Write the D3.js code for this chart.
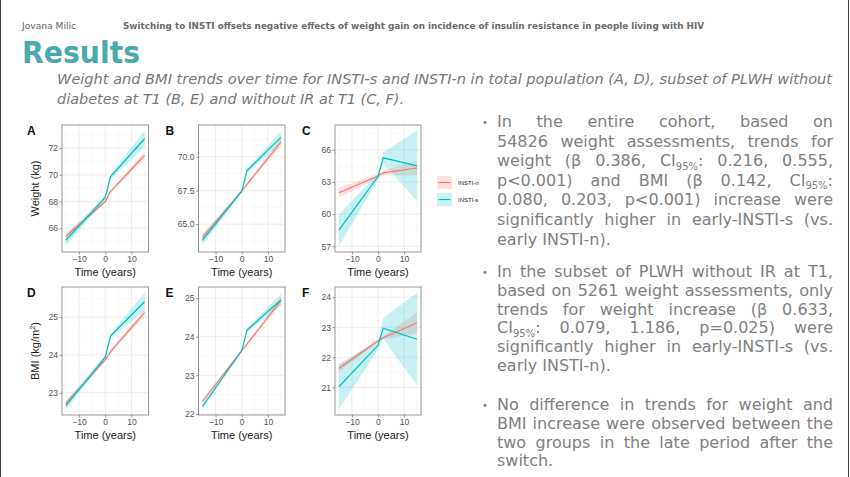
<!DOCTYPE html>
<html>
<head>
<meta charset="utf-8">
<script src="https://cdn.jsdelivr.net/npm/d3@7"></script>
<style>
  html, body { margin: 0; padding: 0; background: #fff; }
  svg { display: block; }
</style>
</head>
<body>
<svg id="slide" width="850" height="477"></svg>
<script>
// time points of the fitted trends (years around the switch)
const years = [-15, 0, 2, 15]
const xTicks = [-10, 0, 10]
const groups = ['INSTI-n', 'INSTI-s']

// A - weight, total population
const weightAllN = [65.4, 68.0, 68.75, 71.45]
const weightAllNci = [0.2, 0.1, 0.1, 0.3]
const weightAllS = [65.1, 68.3, 69.85, 72.7]
const weightAllSci = [0.4, 0.15, 0.2, 0.6]
const weightAllTicks = [66, 68, 70, 72]
// B - weight, without diabetes at T1
const weightNoDmN = [64.0, 67.45, 67.95, 71.1]
const weightNoDmNci = [0.25, 0.08, 0.1, 0.3]
const weightNoDmS = [63.8, 67.45, 68.95, 71.45]
const weightNoDmSci = [0.4, 0.1, 0.15, 0.45]
const weightNoDmTicks = [65, 67.5, 70]
// C - weight, without IR at T1
const weightNoIrN = [62.0, 63.55, 63.85, 64.3]
const weightNoIrNci = [0.45, 0.2, 0.22, 0.7]
const weightNoIrS = [58.5, 63.5, 65.25, 64.5]
const weightNoIrSci = [1.5, 0.3, 0.5, 3.3]
const weightNoIrTicks = [57, 60, 63, 66]
// D - BMI, total population
const bmiAllN = [22.72, 23.87, 24.09, 25.12]
const bmiAllNci = [0.07, 0.03, 0.04, 0.1]
const bmiAllS = [22.66, 23.94, 24.5, 25.41]
const bmiAllSci = [0.12, 0.05, 0.06, 0.24]
const bmiAllTicks = [23, 24, 25]
// E - BMI, without diabetes at T1
const bmiNoDmN = [22.32, 23.64, 23.81, 24.94]
const bmiNoDmNci = [0.05, 0.02, 0.03, 0.1]
const bmiNoDmS = [22.19, 23.64, 24.17, 24.96]
const bmiNoDmSci = [0.08, 0.03, 0.05, 0.15]
const bmiNoDmTicks = [22, 23, 24, 25]
// F - BMI, without IR at T1
const bmiNoIrN = [21.63, 22.55, 22.65, 23.15]
const bmiNoIrNci = [0.12, 0.05, 0.06, 0.35]
const bmiNoIrS = [21.02, 22.4, 22.97, 22.6]
const bmiNoIrSci = [0.75, 0.15, 0.35, 1.55]
const bmiNoIrTicks = [21, 22, 23, 24]

// slide texts
const authorText = 'Jovana Milic'
const headerText = 'Switching to INSTI offsets negative effects of weight gain on incidence of insulin resistance in people living with HIV'
const titleText = 'Results'
const captionLines = [
  'Weight and BMI trends over time for INSTI-s and INSTI-n in total population (A, D), subset of PLWH without',
  'diabetes at T1 (B, E) and without IR at T1 (C, F).'
]
// "~" marks a subscript part
const bullets = [
  ['In the entire cohort, based on',
   '54826 weight assessments, trends for',
   'weight (β 0.386, CI~95%~: 0.216, 0.555,',
   'p<0.001) and BMI (β 0.142, CI~95%~:',
   '0.080, 0.203, p<0.001) increase were',
   'significantly higher in early-INSTI-s (vs.',
   'early INSTI-n).'],
  ['In the subset of PLWH without IR at T1,',
   'based on 5261 weight assessments, only',
   'trends for weight increase (β 0.633,',
   'CI~95%~: 0.079, 1.186, p=0.025) were',
   'significantly higher in early-INSTI-s (vs.',
   'early INSTI-n).'],
  ['No difference in trends for weight and',
   'BMI increase were observed between the',
   'two groups in the late period after the',
   'switch.']
]

const colors = d3.scaleOrdinal(groups, ['#F8766D', '#00BFC4'])
const svg = d3.select('#slide')

svg.append('rect').attr('width', 850).attr('height', 477).attr('fill', '#fff')
svg.append('line').attr('x1', 0.5).attr('x2', 0.5).attr('y1', 0).attr('y2', 477).attr('stroke', '#444')
svg.append('line').attr('x1', 848.5).attr('x2', 848.5).attr('y1', 0).attr('y2', 477).attr('stroke', '#444')

// header
svg.append('text').attr('x', 22).attr('y', 29).text(authorText)
  .style('font-family', 'DejaVu Sans Condensed, DejaVu Sans').style('font-size', '8.5px').attr('fill', '#666')
  .attr('textLength', 54).attr('lengthAdjust', 'spacingAndGlyphs')
svg.append('text').attr('x', 123).attr('y', 29).text(headerText)
  .style('font-family', 'DejaVu Sans Condensed, DejaVu Sans').style('font-weight', 'bold').style('font-size', '8.5px')
  .attr('fill', '#6a6a6a').attr('textLength', 581).attr('lengthAdjust', 'spacingAndGlyphs')
svg.append('text').attr('x', 22).attr('y', 63).text(titleText)
  .style('font-family', 'DejaVu Sans').style('font-weight', 'bold').style('font-size', '30px')
  .attr('fill', '#4aa9ae').attr('textLength', 118).attr('lengthAdjust', 'spacingAndGlyphs')
captionLines.forEach((t, i) => {
  svg.append('text').attr('x', 57).attr('y', 84 + i * 20).text(t)
    .style('font-family', 'DejaVu Sans').style('font-style', 'italic').style('font-size', '14.5px')
    .attr('fill', '#777').attr('textLength', i === 0 ? 775 : 347).attr('lengthAdjust', 'spacingAndGlyphs')
})

// bullet paragraphs, justified
const textG = svg.append('g').attr('fill', '#808080')
  .style('font-family', 'DejaVu Sans').style('font-size', '16px')
const paraY = [127, 277, 410]
const lineH = [19.6, 18.8, 18.8]
const textX = 497, textW = 336
bullets.forEach((para, p) => {
  textG.append('text').attr('x', 482).attr('y', paraY[p] - 1).text('•').style('font-size', '10px')
  para.forEach((line, i) => {
    const y = paraY[p] + i * lineH[p]
    const words = line.split(' ').map(w => {
      const t = textG.append('text').attr('y', y)
      w.split('~').forEach((part, k) => {
        if (!part) return
        const sp = t.append('tspan').text(part)
        if (k % 2 === 1) sp.attr('dy', 3.5).style('font-size', '10px')
        else if (k > 0) sp.attr('dy', -3.5)
      })
      return t
    })
    const widths = words.map(t => t.node().getComputedTextLength())
    const total = d3.sum(widths)
    const last = i === para.length - 1
    const gap = last || words.length < 2 ? 5.1 : (textW - total) / (words.length - 1)
    let x = textX
    words.forEach((t, k) => { t.attr('x', x); x += widths[k] + gap })
  })
})

// small multiples
const cols = [[62, 148.5], [198.5, 285], [335, 421]]
const rows = [[125, 252], [287, 415]]
const panels = [
  { id: 'A', n: weightAllN, nci: weightAllNci, s: weightAllS, sci: weightAllSci, ticks: weightAllTicks, dom: [64.22, 73.73], col: 0, row: 0, fmt: d3.format('d') },
  { id: 'B', n: weightNoDmN, nci: weightNoDmNci, s: weightNoDmS, sci: weightNoDmSci, ticks: weightNoDmTicks, dom: [62.94, 72.35], col: 1, row: 0, fmt: d3.format('.1f') },
  { id: 'C', n: weightNoIrN, nci: weightNoIrNci, s: weightNoIrS, sci: weightNoIrSci, ticks: weightNoIrTicks, dom: [56.47, 68.31], col: 2, row: 0, fmt: d3.format('d') },
  { id: 'D', n: bmiAllN, nci: bmiAllNci, s: bmiAllS, sci: bmiAllSci, ticks: bmiAllTicks, dom: [22.41, 25.8], col: 0, row: 1, fmt: d3.format('d') },
  { id: 'E', n: bmiNoDmN, nci: bmiNoDmNci, s: bmiNoDmS, sci: bmiNoDmSci, ticks: bmiNoDmTicks, dom: [21.97, 25.29], col: 1, row: 1, fmt: d3.format('d') },
  { id: 'F', n: bmiNoIrN, nci: bmiNoIrNci, s: bmiNoIrS, sci: bmiNoIrSci, ticks: bmiNoIrTicks, dom: [20.08, 24.34], col: 2, row: 1, fmt: d3.format('d') }
]

const chartFont = 'Liberation Sans, Arial, sans-serif'

panels.forEach(p => {
  const [x0, x1] = cols[p.col]
  const [y0, y1] = rows[p.row]
  const x = d3.scaleLinear().domain([-16.5, 16.5]).range([x0, x1])
  const y = d3.scaleLinear().domain(p.dom).range([y1, y0])
  const g = svg.append('g')

  // grid
  const step = p.ticks[1] - p.ticks[0]
  const yMinor = d3.range(p.ticks[0] - step / 2, p.dom[1], step).filter(v => v > p.dom[0])
  const xMinor = [-15, -5, 5, 15]
  g.selectAll('.ymin').data(yMinor).join('line')
    .attr('x1', x0).attr('x2', x1).attr('y1', d => y(d)).attr('y2', d => y(d))
    .attr('stroke', '#f3f3f3').attr('stroke-width', 0.5)
  g.selectAll('.xmin').data(xMinor).join('line')
    .attr('y1', y0).attr('y2', y1).attr('x1', d => x(d)).attr('x2', d => x(d))
    .attr('stroke', '#f3f3f3').attr('stroke-width', 0.5)
  g.selectAll('.ymaj').data(p.ticks).join('line')
    .attr('x1', x0).attr('x2', x1).attr('y1', d => y(d)).attr('y2', d => y(d))
    .attr('stroke', '#e8e8e8').attr('stroke-width', 0.8)
  g.selectAll('.xmaj').data(xTicks).join('line')
    .attr('y1', y0).attr('y2', y1).attr('x1', d => x(d)).attr('x2', d => x(d))
    .attr('stroke', '#e8e8e8').attr('stroke-width', 0.8)

  const series = [
    { key: 'INSTI-n', v: p.n, ci: p.nci },
    { key: 'INSTI-s', v: p.s, ci: p.sci }
  ]
  const area = d3.area().x(d => x(d.t)).y0(d => y(d.v - d.ci)).y1(d => y(d.v + d.ci))
  const line = d3.line().x(d => x(d.t)).y(d => y(d.v))
  const pts = s => years.map((t, i) => ({ t, v: s.v[i], ci: s.ci[i] }))

  g.selectAll('.band').data(series).join('path')
    .attr('d', s => area(pts(s)))
    .attr('fill', s => colors(s.key)).attr('fill-opacity', 0.22)
  g.selectAll('.trend').data(series).join('path')
    .attr('d', s => line(pts(s)))
    .attr('fill', 'none').attr('stroke', s => colors(s.key)).attr('stroke-width', 1.2)

  g.append('rect').attr('x', x0).attr('y', y0).attr('width', x1 - x0).attr('height', y1 - y0)
    .attr('fill', 'none').attr('stroke', '#8a8a8a').attr('stroke-width', 0.9)

  const xAxis = g.append('g').attr('transform', `translate(0,${y1})`)
    .call(d3.axisBottom(x).tickValues(xTicks).tickSize(2.5).tickPadding(1.5))
  const yAxis = g.append('g').attr('transform', `translate(${x0},0)`)
    .call(d3.axisLeft(y).tickValues(p.ticks).tickFormat(p.fmt).tickSize(2.5).tickPadding(1.5))
  ;[xAxis, yAxis].forEach(a => {
    a.select('.domain').remove()
    a.selectAll('line').attr('stroke', '#555').attr('stroke-width', 0.6)
    a.selectAll('text').attr('fill', '#555').style('font-family', chartFont).style('font-size', '8.6px')
  })

  g.append('text').attr('x', (x0 + x1) / 2).attr('y', y1 + 24).attr('text-anchor', 'middle')
    .text('Time (years)').style('font-family', chartFont).style('font-size', '11px').attr('fill', '#222')

  g.append('text').attr('x', x0 - (p.col === 0 ? 35 : 33)).attr('y', y0 + 10)
    .text(p.id).style('font-family', chartFont).style('font-weight', 'bold').style('font-size', '12px').attr('fill', '#111')

  if (p.col === 0) {
    const yt = g.append('text').attr('transform', `translate(${x0 - 23},${(y0 + y1) / 2}) rotate(-90)`)
      .attr('text-anchor', 'middle').style('font-family', chartFont).style('font-size', '11px').attr('fill', '#222')
    if (p.row === 0) yt.text('Weight (kg)')
    else {
      yt.append('tspan').text('BMI (kg/m')
      yt.append('tspan').text('2').attr('dy', -4).style('font-size', '7.5px')
      yt.append('tspan').text(')').attr('dy', 4)
    }
  }

  // legend next to panel C
  if (p.id === 'C') {
    const lg = svg.append('g').attr('transform', `translate(${x1 + 16},176)`)
    groups.forEach((k, i) => {
      const row = lg.append('g').attr('transform', `translate(0,${i * 17})`)
      row.append('rect').attr('width', 15).attr('height', 13).attr('fill', colors(k)).attr('fill-opacity', 0.22)
      row.append('line').attr('x1', 1.5).attr('x2', 13.5).attr('y1', 6.5).attr('y2', 6.5)
        .attr('stroke', colors(k)).attr('stroke-width', 1.1)
      row.append('text').attr('x', 21).attr('y', 8.8).text(k)
        .style('font-family', chartFont).style('font-size', '6px').attr('fill', '#222')
    })
  }
})
</script>
</body>
</html>
